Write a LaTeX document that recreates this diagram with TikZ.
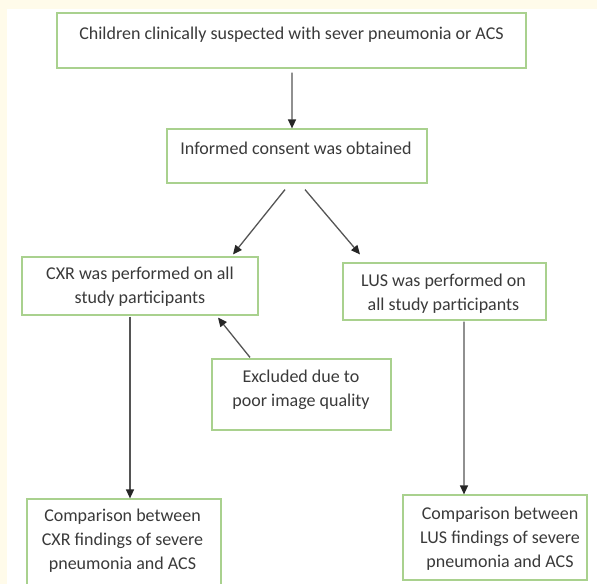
\documentclass[tikz,border=0pt]{standalone}
\usepackage{fontspec}
\setmainfont{Carlito}
\usetikzlibrary{arrows.meta,calc}
\definecolor{cream}{HTML}{FFFBEA}
\definecolor{boxgreen}{HTML}{A9D18E}
\definecolor{txtgray}{HTML}{3A3A3A}
\definecolor{linegray}{HTML}{555555}
\tikzset{
  flowbox/.style={draw=boxgreen, line width=1.2bp, fill=white, inner sep=0pt},
  flowtxt/.style={text=txtgray, align=center, inner sep=0pt,
    font=\fontsize{18bp}{24bp}\selectfont},
  flowarrow/.style={draw=linegray, line width=1.3bp,
    -{Triangle[length=9bp,width=8bp,color=black!85]}}
}
\begin{document}
\begin{tikzpicture}[x=1bp,y=-1bp]
\useasboundingbox (0,0) rectangle (597,584);
\fill[cream] (0,0) rectangle (597,584);
\fill[white] (7,9) rectangle (597,584);

% boxes
\node[flowbox, minimum width=469bp, minimum height=55bp] (A) at (291.5,40.5) {};
\node[flowbox, minimum width=260bp, minimum height=54bp] (B) at (297,156) {};
\node[flowbox, minimum width=236bp, minimum height=58bp] (C) at (140,286) {};
\node[flowbox, minimum width=203bp, minimum height=57bp] (D) at (444.5,291.5) {};
\node[flowbox, minimum width=179bp, minimum height=71bp] (E) at (301.5,394.5) {};
\node[flowbox, minimum width=194bp, minimum height=88bp] (F) at (124,543) {};
\node[flowbox, minimum width=184bp, minimum height=85bp] (G) at (495,537.5) {};

% texts
\node[flowtxt, anchor=base] (tA) at (291.5,40) {Children clinically suspected with sever pneumonia or ACS};
\node[flowtxt, anchor=base] (tB) at (296,155) {Informed consent was obtained};
\node[flowtxt] (tC) at (140,287) {CXR was performed on all\\study participants};
\node[flowtxt] (tD) at (443.5,294) {LUS was performed on\\all study participants};
\node[flowtxt] (tE) at (301,390) {Excluded due to\\poor image quality};
\node[flowtxt] (tF) at (122.5,541) {Comparison between\\CXR findings of severe\\pneumonia and ACS};
\node[flowtxt] (tG) at (500,539) {Comparison between\\LUS findings of severe\\pneumonia and ACS};

% connectors
\draw[flowarrow] ([shift={(0.5,4)}]A.south) -- ([shift={(-5,0)}]B.north);
\draw[flowarrow] ([shift={(-12,6)}]B.south) -- ([shift={(93,-2)}]C.north);
\draw[flowarrow] ([shift={(8,6)}]B.south) -- ([shift={(-84.5,-8)}]D.north);
\draw[flowarrow] ([shift={(-51.5,-1)}]E.north) -- ([shift={(78,2)}]C.south);
\draw[flowarrow] ([shift={(-10,1)}]C.south) -- ([shift={(6,0)}]F.north);
\draw[flowarrow] ([shift={(19.5,1)}]D.south) -- ([shift={(-31,0)}]G.north);
\end{tikzpicture}
\end{document}
